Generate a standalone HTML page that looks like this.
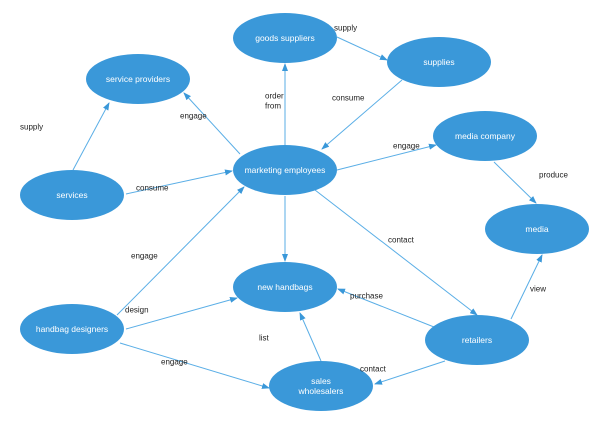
<!DOCTYPE html>
<html><head><meta charset="utf-8"><style>
html,body{margin:0;padding:0;background:#fff;}
svg{display:block;font-family:"Liberation Sans",Arial,sans-serif;}
.n{fill:#3a98d9;}
.t{fill:#fff;font-size:8.5px;text-anchor:middle;dominant-baseline:central;}
.l{fill:#222;font-size:8px;dominant-baseline:central;}
line{stroke:#5aaee6;stroke-width:1;marker-end:url(#a);}
</style></head><body>
<svg width="600" height="443" viewBox="0 0 600 443">
<defs><marker id="a" markerWidth="8" markerHeight="6" refX="7" refY="3" orient="auto" markerUnits="userSpaceOnUse"><path d="M0,0 L8,3 L0,6 Z" fill="#3a98d9"/></marker></defs>
<line x1="73" y1="170" x2="109" y2="103"/>
<line x1="240" y1="154" x2="184" y2="93"/>
<line x1="285" y1="145" x2="285" y2="64"/>
<line x1="337" y1="37" x2="387" y2="60"/>
<line x1="402" y1="80" x2="322" y2="149"/>
<line x1="337" y1="170" x2="436" y2="145"/>
<line x1="126" y1="194" x2="232" y2="171"/>
<line x1="494" y1="162" x2="536" y2="203"/>
<line x1="285" y1="196" x2="285" y2="261"/>
<line x1="315" y1="190" x2="477" y2="315"/>
<line x1="117" y1="315" x2="244" y2="187"/>
<line x1="126" y1="329" x2="237" y2="298"/>
<line x1="120" y1="343" x2="269" y2="388"/>
<line x1="321" y1="361" x2="300" y2="313"/>
<line x1="434" y1="327" x2="338" y2="289"/>
<line x1="445" y1="361" x2="375" y2="384"/>
<line x1="511" y1="319" x2="542" y2="255"/>
<ellipse class="n" cx="285" cy="38" rx="52" ry="25"/><text class="t" x="285" y="38">goods suppliers</text>
<ellipse class="n" cx="439" cy="62" rx="52" ry="25"/><text class="t" x="439" y="62">supplies</text>
<ellipse class="n" cx="138" cy="79" rx="52" ry="25"/><text class="t" x="138" y="79">service providers</text>
<ellipse class="n" cx="485" cy="136" rx="52" ry="25"/><text class="t" x="485" y="136">media company</text>
<ellipse class="n" cx="285" cy="170" rx="52" ry="25"/><text class="t" x="285" y="170">marketing employees</text>
<ellipse class="n" cx="72" cy="195" rx="52" ry="25"/><text class="t" x="72" y="195">services</text>
<ellipse class="n" cx="537" cy="229" rx="52" ry="25"/><text class="t" x="537" y="229">media</text>
<ellipse class="n" cx="285" cy="287" rx="52" ry="25"/><text class="t" x="285" y="287">new handbags</text>
<ellipse class="n" cx="72" cy="329" rx="52" ry="25"/><text class="t" x="72" y="329">handbag designers</text>
<ellipse class="n" cx="477" cy="340" rx="52" ry="25"/><text class="t" x="477" y="340">retailers</text>
<ellipse class="n" cx="321" cy="386" rx="52" ry="25"/><text class="t" x="321" y="381">sales</text><text class="t" x="321" y="391">wholesalers</text>
<text class="l" x="334" y="28">supply</text>
<text class="l" x="265" y="96">order</text>
<text class="l" x="265" y="106">from</text>
<text class="l" x="332" y="98">consume</text>
<text class="l" x="20" y="127">supply</text>
<text class="l" x="180" y="116">engage</text>
<text class="l" x="393" y="146">engage</text>
<text class="l" x="539" y="175">produce</text>
<text class="l" x="136" y="188">consume</text>
<text class="l" x="388" y="240">contact</text>
<text class="l" x="131" y="256">engage</text>
<text class="l" x="530" y="289">view</text>
<text class="l" x="350" y="296">purchase</text>
<text class="l" x="125" y="310">design</text>
<text class="l" x="259" y="338">list</text>
<text class="l" x="161" y="362">engage</text>
<text class="l" x="360" y="369">contact</text>
</svg>
</body></html>
